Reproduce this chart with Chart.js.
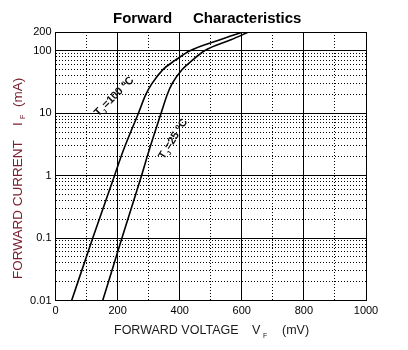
<!DOCTYPE html>
<html>
<head>
<meta charset="utf-8">
<script src="https://cdn.jsdelivr.net/npm/chart.js@4"></script>
<style>
  body { margin: 0; background: #fff; }
  #wrap { width: 408px; height: 350px; }
</style>
</head>
<body>
<div id="wrap"><canvas id="fwdChart"></canvas></div>
<script>
// curve values (mV, mA)
const vfHot = [52, 120, 190, 218, 267, 291, 311, 346, 385, 433, 530, 604];
const ifHot = [0.01, 0.1, 1, 2.5, 10, 20, 30, 50, 70, 100, 150, 200];
const vfRoom = [152, 214, 277, 301, 340, 360, 376, 408, 440, 480, 565, 622];
const ifRoom = [0.01, 0.1, 1, 2.5, 10, 20, 30, 50, 70, 100, 150, 200];

const xTicks = [0, 100, 200, 300, 400, 500, 600, 700, 800, 900, 1000];
const xLabels = [0, 200, 400, 600, 800, 1000];
const yTicks = [0.01, 0.02, 0.03, 0.04, 0.05, 0.06, 0.07, 0.08, 0.09,
  0.1, 0.2, 0.3, 0.4, 0.5, 0.6, 0.7, 0.8, 0.9,
  1, 2, 3, 4, 5, 6, 7, 8, 9,
  10, 20, 30, 40, 50, 60, 70, 80, 90,
  100, 200];
const yLabels = ['0.01', '0.1', '1', '10', '100', '200'];

// where the curve names sit (mV, mA)
const hotLabelAt = [138, 8.8];
const roomLabelAt = [349, 1.8];

function toPoints(xs, ys) {
  return xs.map((v, i) => ({ x: v, y: ys[i] }));
}

const FONT = 'Arial, "Liberation Sans", sans-serif';

// titles and curve names, drawn as text on top
const textPlugin = {
  id: 'texts',
  afterDraw(chart) {
    const c = chart.ctx;
    const xs = chart.scales.x, ys = chart.scales.y;
    c.save();
    c.fillStyle = '#000';
    c.textBaseline = 'alphabetic';
    c.textAlign = 'left';
    c.font = 'bold 15px ' + FONT;
    c.fillText('Forward', 113, 23);
    c.fillText('Characteristics', 193, 23);

    // x title
    c.fillStyle = '#1a1a1a';
    c.font = '12.5px ' + FONT;
    c.fillText('FORWARD VOLTAGE', 114, 334);
    c.fillText('V', 252, 334);
    c.font = '7px ' + FONT;
    c.fillText('F', 263, 338);
    c.font = '12.5px ' + FONT;
    c.fillText('(mV)', 282, 334);

    // y title
    c.save();
    c.translate(22, 279);
    c.rotate(-Math.PI / 2);
    c.fillStyle = '#7a2030';
    c.font = '13.5px ' + FONT;
    c.fillText('FORWARD CURRENT', 0, 0);
    c.fillText('I', 153, 0);
    c.font = '7px ' + FONT;
    c.fillText('F', 160, 3);
    c.font = '13.5px ' + FONT;
    c.fillText('(mA)', 172, 0);
    c.restore();

    // curve names
    function curveLabel(at, angle, t) {
      const px = xs.getPixelForValue(at[0]);
      const py = ys.getPixelForValue(at[1]);
      c.save();
      c.translate(px, py);
      c.rotate(angle * Math.PI / 180);
      c.fillStyle = '#111';
      c.textBaseline = 'alphabetic';
      c.font = 'bold 11px ' + FONT;
      let w = 0;
      c.fillText('T', w, 0); w += c.measureText('T').width;
      c.font = 'bold 6px ' + FONT;
      c.fillText('J', w, 3); w += c.measureText('J').width + 1;
      c.font = 'bold 11px ' + FONT;
      c.fillText('=' + t + ' ', w, 0); w += c.measureText('=' + t + ' ').width;
      c.font = 'bold 7px ' + FONT;
      c.fillText('o', w, -4); w += c.measureText('o').width;
      c.font = 'bold 11px ' + FONT;
      c.fillText('C', w, 0);
      c.restore();
    }
    curveLabel(hotLabelAt, -45, '100');
    curveLabel(roomLabelAt, -58, '25');
    c.restore();
  }
};

function isMajorY(v) {
  return [0.01, 0.1, 1, 10, 100, 200].includes(v);
}

const ctx = document.getElementById('fwdChart').getContext('2d');
new Chart(ctx, {
  type: 'line',
  data: {
    datasets: [{
      label: 'Tj=100°C',
      data: toPoints(vfHot, ifHot),
      borderColor: '#000',
      borderWidth: 1.6,
      pointRadius: 0,
      cubicInterpolationMode: 'monotone',
      fill: false
    }, {
      label: 'Tj=25°C',
      data: toPoints(vfRoom, ifRoom),
      borderColor: '#000',
      borderWidth: 1.6,
      pointRadius: 0,
      cubicInterpolationMode: 'monotone',
      fill: false
    }]
  },
  options: {
    responsive: true,
    maintainAspectRatio: false,
    animation: false,
    layout: { padding: { top: 32, right: 42, left: 0, bottom: 0 } },
    plugins: {
      legend: { display: false },
      tooltip: { enabled: false },
      title: { display: false }
    },
    scales: {
      x: {
        type: 'linear',
        min: 0,
        max: 1000,
        afterFit: (s) => { s.height = 49.5; },
        afterBuildTicks: (s) => { s.ticks = xTicks.map(v => ({ value: v })); },
        ticks: {
          autoSkip: false,
          maxRotation: 0,
          padding: 4,
          color: '#000',
          font: { family: FONT, size: 11 },
          callback: (v) => xLabels.includes(v) ? String(v) : ''
        },
        grid: {
          color: '#000',
          lineWidth: 1,
          drawTicks: false
        },
        border: {
          display: true,
          color: '#000',
          width: 1,
          dash: (c) => (c.tick && c.tick.value % 200 !== 0) ? [1, 2] : []
        }
      },
      y: {
        type: 'logarithmic',
        min: 0.01,
        max: 200,
        afterFit: (s) => { s.width = 55.5; },
        afterBuildTicks: (s) => { s.ticks = yTicks.map(v => ({ value: v })); },
        ticks: {
          autoSkip: false,
          padding: 4,
          color: '#000',
          font: { family: FONT, size: 11 },
          callback: (v) => {
            const lab = yLabels.find(l => parseFloat(l) === v);
            return lab ? lab : '';
          }
        },
        grid: {
          color: '#000',
          lineWidth: 1,
          drawTicks: false
        },
        border: {
          display: true,
          color: '#000',
          width: 1,
          dash: (c) => (c.tick && !isMajorY(c.tick.value)) ? [1, 2] : []
        }
      }
    }
  },
  plugins: [textPlugin]
});
</script>
</body>
</html>
